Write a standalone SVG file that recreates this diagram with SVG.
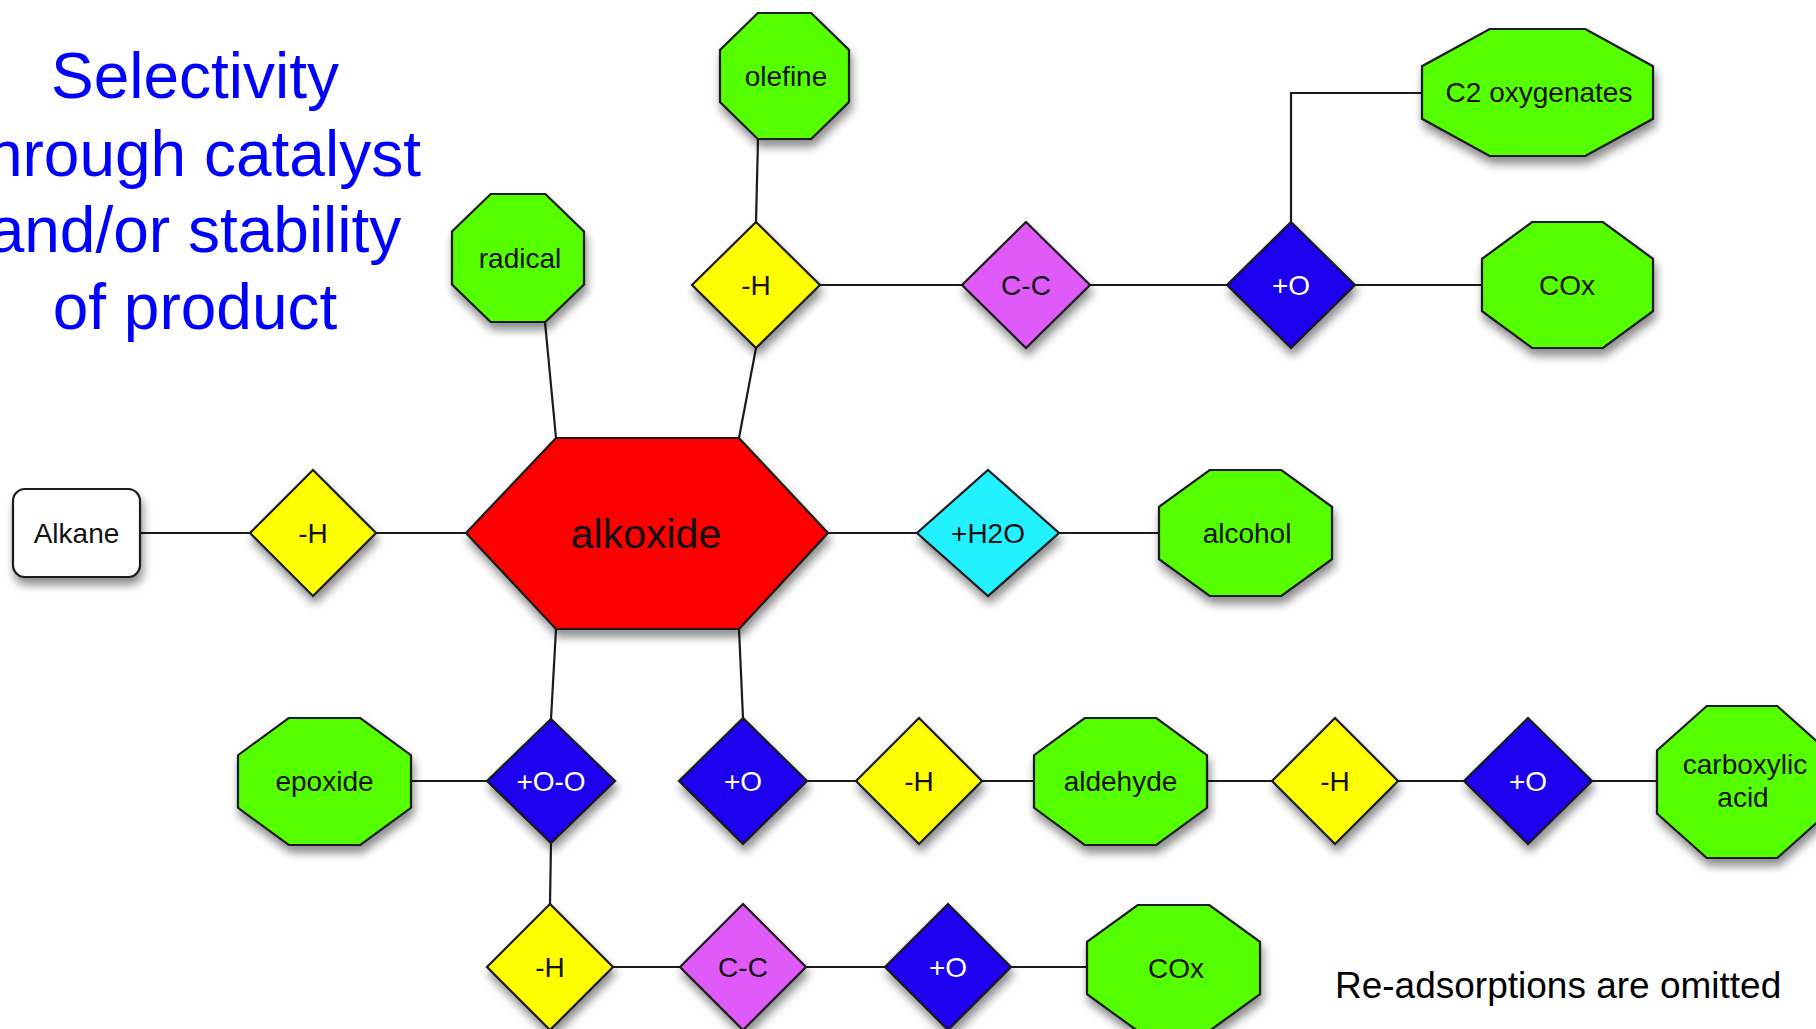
<svg xmlns="http://www.w3.org/2000/svg" width="1816" height="1029" viewBox="0 0 1816 1029">
<defs>
<filter id="sh" x="-20%" y="-20%" width="140%" height="150%">
<feDropShadow dx="2" dy="7" stdDeviation="5" flood-color="#000" flood-opacity="0.45"/>
</filter>
<style>
.title{font-family:"Liberation Sans",Arial,sans-serif;font-size:64px;fill:#0000ff;text-anchor:middle}
.note{font-family:"Liberation Sans",Arial,sans-serif;font-size:37px;fill:#000}
.lbl{font-family:"Liberation Sans",Arial,sans-serif;font-size:28px;fill:#111;text-anchor:middle}
.wl{fill:#fff}
.big{font-size:41px}
.shape{stroke:#1a1a1a;stroke-width:2.2;stroke-linejoin:miter;filter:url(#sh)}
.green{fill:#55ff00}
.yellow{fill:#ffff00}
.blue{fill:#1a00ee}
.pink{fill:#df5af8}
.cyan{fill:#22f2ff}
.red{fill:#ff0000}
.white{fill:#ffffff}
.conn{stroke:#1a1a1a;stroke-width:2.2;fill:none}
</style>
</defs>
<rect width="1816" height="1029" fill="#fff"/>

<g id="title">
<text class="title" x="195" y="98">Selectivity</text>
<text class="title" x="195" y="176">through catalyst</text>
<text class="title" x="195" y="252">and/or stability</text>
<text class="title" x="195" y="329">of product</text>
</g>
<text class="note" x="1335" y="998">Re-adsorptions are omitted</text>

<g id="connectors">
<line class="conn" x1="140" y1="533" x2="250" y2="533"/>
<line class="conn" x1="376" y1="533" x2="466" y2="533"/>
<line class="conn" x1="545" y1="322" x2="556" y2="438"/>
<line class="conn" x1="758" y1="139" x2="756" y2="222"/>
<line class="conn" x1="756" y1="348" x2="739" y2="438"/>
<line class="conn" x1="820" y1="285" x2="962" y2="285"/>
<line class="conn" x1="1090" y1="285" x2="1227" y2="285"/>
<polyline class="conn" points="1291,222 1291,93 1422,93"/>
<line class="conn" x1="1355" y1="285" x2="1482" y2="285"/>
<line class="conn" x1="828" y1="533" x2="917" y2="533"/>
<line class="conn" x1="1059" y1="533" x2="1159" y2="533"/>
<line class="conn" x1="556" y1="629" x2="551" y2="719"/>
<line class="conn" x1="739" y1="629" x2="743" y2="718"/>
<line class="conn" x1="411" y1="781" x2="487" y2="781"/>
<line class="conn" x1="551" y1="843" x2="550" y2="904"/>
<line class="conn" x1="807" y1="781" x2="856" y2="781"/>
<line class="conn" x1="982" y1="781" x2="1034" y2="781"/>
<line class="conn" x1="1207" y1="781" x2="1272" y2="781"/>
<line class="conn" x1="1398" y1="781" x2="1464" y2="781"/>
<line class="conn" x1="1592" y1="781" x2="1657" y2="781"/>
<line class="conn" x1="613" y1="967" x2="680" y2="967"/>
<line class="conn" x1="806" y1="967" x2="885" y2="967"/>
<line class="conn" x1="1011" y1="967" x2="1087" y2="967"/>
</g>

<g id="alkane">
<rect class="shape white" x="13" y="489" width="127" height="88" rx="12"/>
<text class="lbl" x="76.5" y="533" dy=".35em">Alkane</text>
</g>
<g id="h-left">
<polygon class="shape yellow" points="313,470 376,533 313,596 250,533"/>
<text class="lbl" x="313" y="533" dy=".35em">-H</text>
</g>
<g id="alkoxide">
<polygon class="shape red" points="466,533 556,438 739,438 828,533 739,629 556,629"/>
<text class="lbl big" x="646" y="534" dy=".35em">alkoxide</text>
</g>
<g id="radical">
<polygon class="shape green" points="490.7,194 545.3,194 584,231.5 584,284.5 545.3,322 490.7,322 452,284.5 452,231.5"/>
<text class="lbl" x="520" y="258" dy=".35em">radical</text>
</g>
<g id="olefine">
<polygon class="shape green" points="757.8,13 811.2,13 849,49.9 849,102.1 811.2,139 757.8,139 720,102.1 720,49.9"/>
<text class="lbl" x="786" y="76" dy=".35em">olefine</text>
</g>
<g id="h-top">
<polygon class="shape yellow" points="756,222 820,285 756,348 692,285"/>
<text class="lbl" x="756" y="285" dy=".35em">-H</text>
</g>
<g id="cc-top">
<polygon class="shape pink" points="1026,222 1090,285 1026,348 962,285"/>
<text class="lbl" x="1026" y="285" dy=".35em">C-C</text>
</g>
<g id="o-top">
<polygon class="shape blue" points="1291,222 1355,285 1291,348 1227,285"/>
<text class="lbl wl" x="1291" y="285" dy=".35em">+O</text>
</g>
<g id="c2-oxygenates">
<polygon class="shape green" points="1489.7,29 1585.3,29 1653,66.2 1653,118.8 1585.3,156 1489.7,156 1422,118.8 1422,66.2"/>
<text class="lbl" x="1539" y="92.5" dy=".35em">C2 oxygenates</text>
</g>
<g id="cox-top">
<polygon class="shape green" points="1532.1,222 1602.9,222 1653,258.9 1653,311.1 1602.9,348 1532.1,348 1482,311.1 1482,258.9"/>
<text class="lbl" x="1567" y="285" dy=".35em">COx</text>
</g>
<g id="h2o">
<polygon class="shape cyan" points="988,470 1059,533 988,596 917,533"/>
<text class="lbl" x="988" y="533" dy=".35em">+H2O</text>
</g>
<g id="alcohol">
<polygon class="shape green" points="1209.7,470 1281.3,470 1332,506.9 1332,559.1 1281.3,596 1209.7,596 1159,559.1 1159,506.9"/>
<text class="lbl" x="1247" y="533" dy=".35em">alcohol</text>
</g>
<g id="epoxide">
<polygon class="shape green" points="288.7,718 360.3,718 411,755.2 411,807.8 360.3,845 288.7,845 238,807.8 238,755.2"/>
<text class="lbl" x="324.5" y="781.5" dy=".35em">epoxide</text>
</g>
<g id="oo">
<polygon class="shape blue" points="551,719 615,781 551,843 487,781"/>
<text class="lbl wl" x="551" y="781" dy=".35em">+O-O</text>
</g>
<g id="o-b1">
<polygon class="shape blue" points="743,718 807,781 743,844 679,781"/>
<text class="lbl wl" x="743" y="781" dy=".35em">+O</text>
</g>
<g id="h-b1">
<polygon class="shape yellow" points="919,718 982,781 919,844 856,781"/>
<text class="lbl" x="919" y="781" dy=".35em">-H</text>
</g>
<g id="aldehyde">
<polygon class="shape green" points="1084.7,718 1156.3,718 1207,755.2 1207,807.8 1156.3,845 1084.7,845 1034,807.8 1034,755.2"/>
<text class="lbl" x="1120.5" y="781.5" dy=".35em">aldehyde</text>
</g>
<g id="h-b2">
<polygon class="shape yellow" points="1335,718 1398,781 1335,844 1272,781"/>
<text class="lbl" x="1335" y="781" dy=".35em">-H</text>
</g>
<g id="o-b2">
<polygon class="shape blue" points="1528,718 1592,781 1528,844 1464,781"/>
<text class="lbl wl" x="1528" y="781" dy=".35em">+O</text>
</g>
<g id="carboxylic-acid">
<polygon class="shape green" points="1706.8,706 1777.2,706 1827,750.5 1827,813.5 1777.2,858 1706.8,858 1657,813.5 1657,750.5"/>
<text class="lbl" x="1745" y="774">carboxylic</text>
<text class="lbl" x="1743" y="807">acid</text>
</g>
<g id="h-bottom">
<polygon class="shape yellow" points="550,904 613,967 550,1030 487,967"/>
<text class="lbl" x="550" y="967" dy=".35em">-H</text>
</g>
<g id="cc-bottom">
<polygon class="shape pink" points="743,904 806,967 743,1030 680,967"/>
<text class="lbl" x="743" y="967" dy=".35em">C-C</text>
</g>
<g id="o-bottom">
<polygon class="shape blue" points="948,904 1011,967 948,1030 885,967"/>
<text class="lbl wl" x="948" y="967" dy=".35em">+O</text>
</g>
<g id="cox-bottom">
<polygon class="shape green" points="1137.7,905 1209.3,905 1260,941.9 1260,994.1 1209.3,1031 1137.7,1031 1087,994.1 1087,941.9"/>
<text class="lbl" x="1176" y="968" dy=".35em">COx</text>
</g>
</svg>
